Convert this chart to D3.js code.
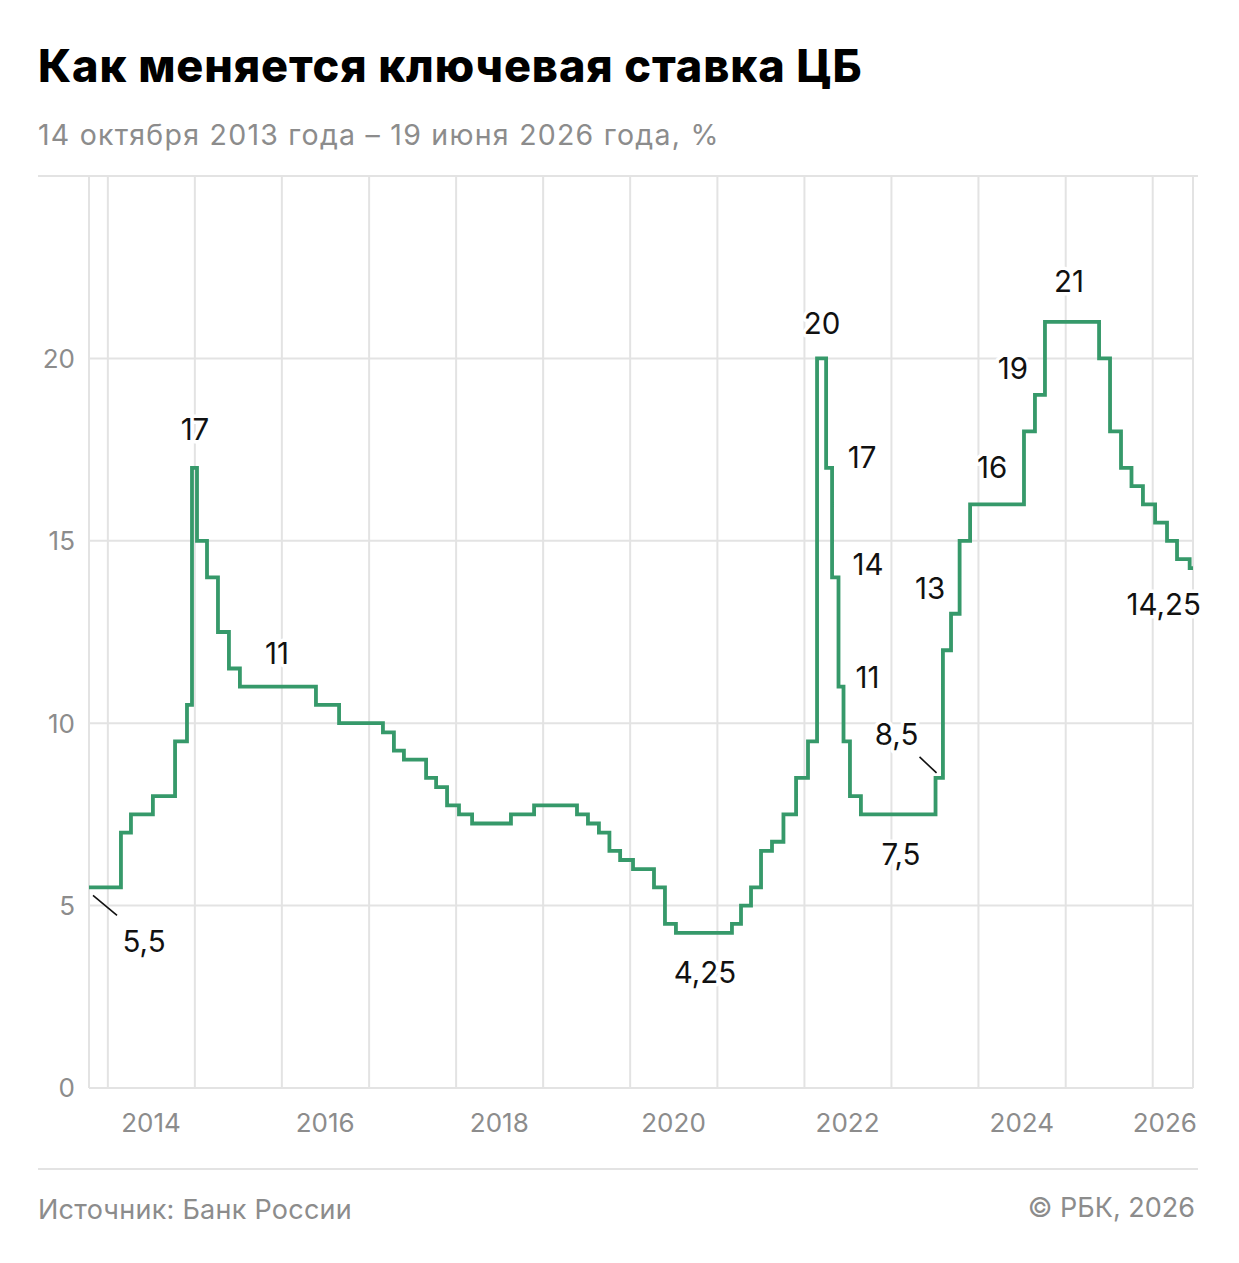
<!DOCTYPE html>
<html>
<head>
<meta charset="utf-8">
<script src="https://d3js.org/d3.v7.min.js"></script>
<style>
  body { margin: 0; background: #fff; }
  text { font-family: Inter, "Noto Sans", sans-serif; }
</style>
</head>
<body>
<script>

// даты изменения ставки и значения, %
var dates = ["2013-10-14","2014-02-25","2014-04-08","2014-07-09","2014-10-10","2014-11-29","2014-12-20",
  "2015-01-10","2015-02-21","2015-04-08","2015-05-24","2015-07-09","2016-05-23","2016-08-28",
  "2017-02-28","2017-04-15","2017-05-27","2017-08-28","2017-10-09","2017-11-24",
  "2018-01-13","2018-03-09","2018-08-19","2018-11-24",
  "2019-05-23","2019-07-08","2019-08-23","2019-10-06","2019-11-20",
  "2020-01-13","2020-04-10","2020-05-26","2020-07-11",
  "2021-03-03","2021-04-10","2021-05-22","2021-07-03","2021-08-18","2021-10-05","2021-11-27",
  "2022-01-16","2022-02-23","2022-04-02","2022-04-27","2022-05-24","2022-06-14","2022-07-11","2022-08-26",
  "2023-07-05","2023-08-05","2023-09-08","2023-10-14","2023-11-27",
  "2024-07-10","2024-08-25","2024-10-06",
  "2025-05-21","2025-07-06","2025-08-21","2025-10-04","2025-11-21",
  "2026-01-11","2026-03-02","2026-04-13","2026-06-05"];

var rates = [5.5,7,7.5,8,9.5,10.5,17,
  15,14,12.5,11.5,11,10.5,10,
  9.75,9.25,9,8.5,8.25,7.75,
  7.5,7.25,7.5,7.75,
  7.5,7.25,7,6.5,6.25,
  6,5.5,4.5,4.25,
  4.5,5,5.5,6.5,6.75,7.5,8.5,
  9.5,20,17,14,11,9.5,8,7.5,
  8.5,12,13,15,16,
  18,19,21,
  20,18,17,16.5,16,
  15.5,15,14.5,14.25];

var startDate = "2013-10-14";
var endDate = "2026-06-19";

var yTicks = [0, 5, 10, 15, 20];
var xLabelYears = [2014, 2016, 2018, 2020, 2022, 2024, 2026];

// подписанные ступени (индексы в массивах выше)
var labelIdx = [0, 6, 11, 32, 41, 42, 43, 44, 48, 47, 50, 52, 54, 55, 64];

var title = "Как меняется ключевая ставка ЦБ";
var subtitle = "14 октября 2013 года – 19 июня 2026 года, %";
var source = "Источник: Банк России";
var copyright = "© РБК, 2026";


var width = 1239, height = 1263;
var parse = d3.timeParse("%Y-%m-%d");

var svg = d3.select("body").append("svg")
    .attr("width", width)
    .attr("height", height);

var x = d3.scaleTime()
    .domain([parse(startDate), parse(endDate)])
    .range([89, 1193]);

var y = d3.scaleLinear()
    .domain([0, 25])
    .range([1088, 176]);

var grey = "#e3e3e3";
var textGrey = "#8c8c8c";
var green = "#36996a";

svg.append("text")
    .attr("x", 38).attr("y", 82)
    .attr("font-size", 45)
    .attr("font-weight", 800)
    .attr("fill", "#000")
    .style("letter-spacing", "0.9px")
    .text(title);

svg.append("text")
    .attr("x", 38).attr("y", 145)
    .attr("font-size", 28.5)
    .attr("fill", textGrey)
    .style("letter-spacing", "1.25px")
    .text(subtitle);

// сетка
svg.append("g").selectAll("line")
    .data(yTicks)
    .join("line")
    .attr("x1", x.range()[0]).attr("x2", x.range()[1])
    .attr("y1", function(d){ return y(d); })
    .attr("y2", function(d){ return y(d); })
    .attr("stroke", grey).attr("stroke-width", 2);

var vlines = [x.domain()[0]].concat(x.ticks(d3.timeYear)).concat([x.domain()[1]]);
svg.append("g").selectAll("line")
    .data(vlines)
    .join("line")
    .attr("x1", function(d){ return x(d); })
    .attr("x2", function(d){ return x(d); })
    .attr("y1", y(25)).attr("y2", y(0))
    .attr("stroke", grey).attr("stroke-width", 2);

// разделители
[y(25), 1169].forEach(function(yy){
  svg.append("line")
      .attr("x1", 38).attr("x2", 1198)
      .attr("y1", yy).attr("y2", yy)
      .attr("stroke", grey).attr("stroke-width", 2);
});

// подписи осей
svg.append("g").selectAll("text")
    .data(yTicks)
    .join("text")
    .attr("x", 75)
    .attr("y", function(d){ return y(d); })
    .attr("dy", "0.36em")
    .attr("text-anchor", "end")
    .attr("font-size", 26)
    .attr("fill", textGrey)
    .text(function(d){ return d; });

var xl = svg.append("g").selectAll("text")
    .data(xLabelYears)
    .join("text")
    .attr("y", 1132)
    .attr("text-anchor", "middle")
    .attr("font-size", 26)
    .attr("fill", textGrey)
    .text(function(d){ return d; });

xl.attr("x", function(d){
  var cx = x(new Date(d, 6, 1));
  var w = this.getComputedTextLength();
  return Math.min(cx, x.range()[1] + 4 - w / 2);
});

// линия ставки
var pts = dates.map(function(d, i){ return {date: parse(d), rate: rates[i]}; });
pts.push({date: parse(endDate), rate: rates[rates.length - 1]});

var line = d3.line()
    .x(function(d){ return x(d.date); })
    .y(function(d){ return y(d.rate); })
    .curve(d3.curveStepAfter);

svg.append("path")
    .datum(pts)
    .attr("d", line)
    .attr("fill", "none")
    .attr("stroke", green)
    .attr("stroke-width", 3.8)
    .attr("stroke-linejoin", "miter");

// смещения подписей относительно начала ступени
var offsets = {
  0: [55, 65], 6: [3, -28], 11: [37, -23], 32: [29, 50], 41: [5, -24],
  42: [36, 0], 43: [36, -2], 44: [29, 1], 48: [-39, -33], 47: [40, 51],
  50: [-21, -15], 52: [22, -26], 54: [-22, -16], 55: [24, -30], 64: [-26, 47]
};

// выноски
var leaders = {0: [[4, 8], [28, 28]], 48: [[-16, -21], [1, -5]]};
Object.keys(leaders).forEach(function(k){
  var px = x(parse(dates[k])), py = y(rates[k]);
  var l = leaders[k];
  svg.append("line")
      .attr("x1", px + l[0][0]).attr("y1", py + l[0][1])
      .attr("x2", px + l[1][0]).attr("y2", py + l[1][1])
      .attr("stroke", "#111").attr("stroke-width", 1.6);
});

svg.append("g").selectAll("text")
    .data(labelIdx)
    .join("text")
    .attr("x", function(i){ return x(parse(dates[i])) + offsets[i][0]; })
    .attr("y", function(i){ return y(rates[i]) + offsets[i][1]; })
    .attr("text-anchor", "middle")
    .attr("font-size", 29.5)
    .attr("fill", "#111")
    .attr("stroke", "#fff")
    .attr("stroke-width", 7)
    .attr("paint-order", "stroke")
    .attr("stroke-linejoin", "round")
    .text(function(i){ return String(rates[i]).replace(".", ","); });

// подвал
svg.append("text")
    .attr("x", 38).attr("y", 1219)
    .attr("font-size", 27)
    .attr("fill", textGrey)
    .style("letter-spacing", "0.25px")
    .text(source);

svg.append("text")
    .attr("x", 1195).attr("y", 1217)
    .attr("text-anchor", "end")
    .attr("font-size", 27)
    .attr("fill", textGrey)
    .text(copyright);

</script>
</body>
</html>
